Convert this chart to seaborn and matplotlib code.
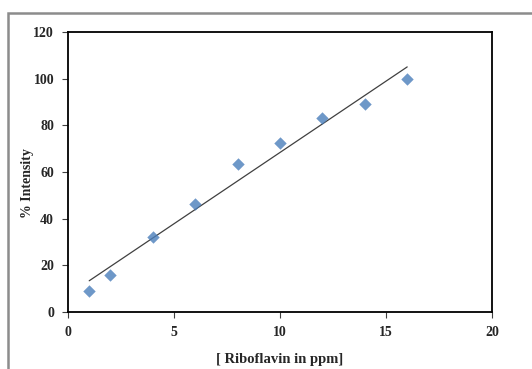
import matplotlib
matplotlib.use("Agg")
import matplotlib.pyplot as plt
import seaborn as sns
import pandas as pd
from matplotlib.patches import Rectangle

conc = [1, 2, 4, 6, 8, 10, 12, 14, 16]
intensity = [9, 16, 32, 46.5, 63.5, 72.5, 83, 89, 100]
xticks = [0, 5, 10, 15, 20]
yticks = [0, 20, 40, 60, 80, 100, 120]

sns.set_style("white")
plt.rcParams['font.family'] = ['Liberation Serif', 'DejaVu Serif']

df = pd.DataFrame({"conc": conc, "intensity": intensity})

W, H = 532, 369
fig = plt.figure(figsize=(W / 100, H / 100), dpi=100)
ax = fig.add_axes([68 / W, 1 - 312 / H, (492 - 68) / W, (312 - 32) / H])

sns.regplot(data=df, x="conc", y="intensity", ax=ax, ci=None, truncate=True,
            marker="D",
            scatter_kws=dict(s=40, color="#4A7EBB", edgecolor="#4A7EBB", linewidths=0, zorder=3),
            line_kws=dict(color="#404040", lw=0.9, zorder=2))

ax.set_xlim(0, 20)
ax.set_ylim(0, 120)
ax.set_xticks(xticks)
ax.set_yticks(yticks)
ax.set_xticklabels([str(t) for t in xticks], fontsize=10, fontweight="bold")
ax.set_yticklabels([str(t) for t in yticks], fontsize=10, fontweight="bold")
ax.tick_params(axis="both", direction="out", length=4, width=0.8, color="#404040",
               bottom=True, left=True, pad=6)
for s in ax.spines.values():
    s.set_visible(True)
    s.set_color("black")
    s.set_linewidth(1.3)

ax.set_xlabel("[ Riboflavin in ppm]", fontsize=10.5, fontweight="bold")
ax.set_ylabel("% Intensity", fontsize=10, fontweight="bold")
ax.xaxis.set_label_coords(0.5, (312 - 360) / 280, transform=ax.transAxes)
ax.xaxis.label.set_verticalalignment("center")
ax.yaxis.set_label_coords((28 - 68) / 424, (312 - 183) / 280, transform=ax.transAxes)
ax.yaxis.label.set_verticalalignment("center")

# outer chart border
fig.patches.append(Rectangle((8 / W, -0.05), 1.2, 1 - 13 / H + 0.05, transform=fig.transFigure,
                             fill=False, edgecolor="#8C8C8C", lw=1.8))

fig.savefig("out.png", dpi=100)
